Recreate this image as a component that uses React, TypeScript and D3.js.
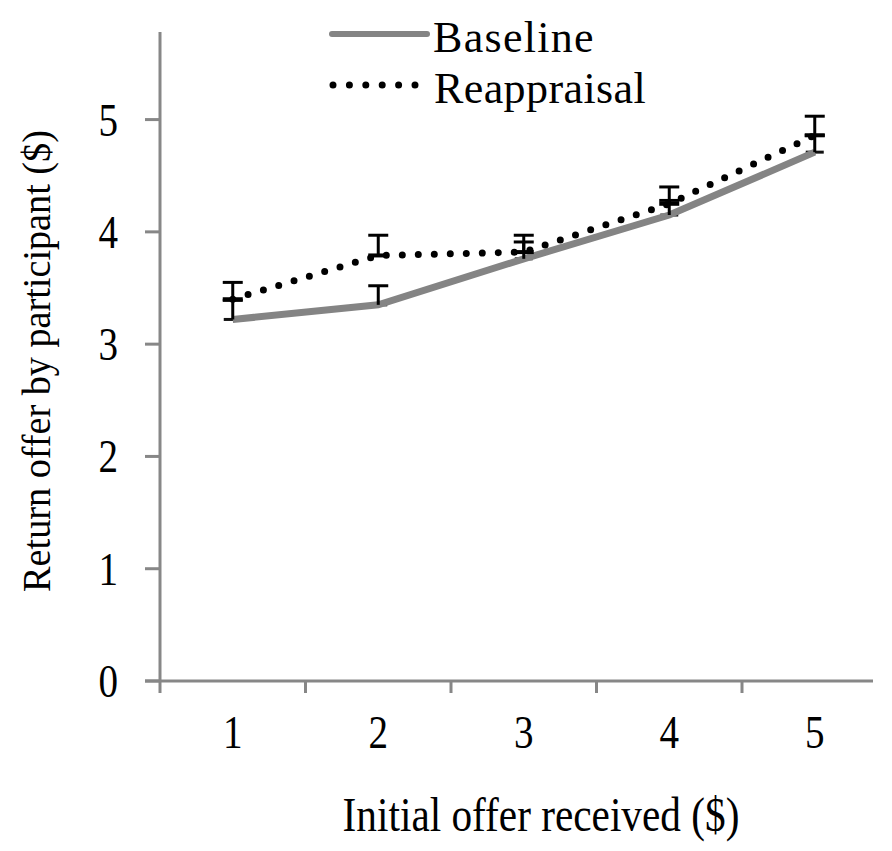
import * as d3 from "d3"

// categories on the x axis
const offers = ["1", "2", "3", "4", "5"]

// series values (mean return offer, $)
const baseline = [3.22, 3.35, 3.76, 4.15, 4.71]
const baselineErr = [0.17, 0.17, 0.15, 0.13, 0.15]
const reappraisal = [3.4, 3.79, 3.82, 4.25, 4.86]
const reappraisalErr = [0.15, 0.18, 0.15, 0.15, 0.17]

const yTicks = [0, 1, 2, 3, 4, 5]

const W = 892
const H = 851
const FONT = "'Liberation Serif', 'Times New Roman', serif"

export default function App() {
  // scales
  const x = d3.scaleBand<string>().domain(offers).range([160, 887.5]).padding(0)
  const y = d3.scaleLinear().domain([0, 5.78]).range([681, 32])
  const cx = (c: string) => (x(c) ?? 0) + x.bandwidth() / 2

  const line = d3
    .line<number>()
    .x((_, i) => cx(offers[i]))
    .y((d) => y(d))

  const axisColor = "#878787"

  return (
    <svg
      width={W}
      height={H}
      style={{ position: "absolute", left: 0, top: 0, background: "#fff" }}
      fontFamily={FONT}
    >
      <rect width={W} height={H} fill="#fff" />

      {/* y axis */}
      <line x1={160} x2={160} y1={y(5.78)} y2={693} stroke={axisColor} strokeWidth={3} />
      {yTicks.map((t) => (
        <g key={t}>
          <line x1={145} x2={160} y1={y(t)} y2={y(t)} stroke={axisColor} strokeWidth={3} />
          <text
            transform={`translate(118,${y(t) + 16}) scale(0.85,1)`}
            textAnchor="end"
            fontSize={46}
            fill="#000"
          >
            {t}
          </text>
        </g>
      ))}

      {/* x axis */}
      <line x1={145} x2={873} y1={y(0)} y2={y(0)} stroke={axisColor} strokeWidth={3} />
      {offers.map((c) => (
        <g key={c}>
          {(x(c) ?? 0) > 160 && (
            <line x1={x(c)} x2={x(c)} y1={y(0)} y2={693} stroke={axisColor} strokeWidth={3} />
          )}
          <text
            transform={`translate(${cx(c)},748) scale(0.85,1)`}
            textAnchor="middle"
            fontSize={46}
            fill="#000"
          >
            {c}
          </text>
        </g>
      ))}

      {/* axis titles */}
      <text
        transform="translate(541,831) scale(0.86,1)"
        textAnchor="middle"
        fontSize={48}
        fill="#000"
      >
        Initial offer received ($)
      </text>
      <text
        transform="translate(50,361) rotate(-90) scale(0.955,1)"
        textAnchor="middle"
        fontSize={40}
        fill="#000"
      >
        Return offer by participant ($)
      </text>

      {/* baseline dash markers (mostly hidden under the line) */}
      {baseline.map((v, i) => (
        <line
          key={`bm${i}`}
          x1={cx(offers[i]) - 9}
          x2={cx(offers[i]) + 9}
          y1={y(v)}
          y2={y(v)}
          stroke="#111"
          strokeWidth={3}
        />
      ))}

      {/* baseline series */}
      <path d={line(baseline) ?? ""} fill="none" stroke="#848484" strokeWidth={7} />

      {/* reappraisal series */}
      <path
        d={line(reappraisal) ?? ""}
        fill="none"
        stroke="#000"
        strokeWidth={7}
        strokeDasharray="0 16"
        strokeLinecap="round"
      />

      {/* error bars (plus only) */}
      {[
        { vals: baseline, err: baselineErr, k: "b" },
        { vals: reappraisal, err: reappraisalErr, k: "r" },
      ].map((s) =>
        s.vals.map((v, i) => {
          const px = cx(offers[i])
          return (
            <g key={`${s.k}${i}`} stroke="#000" strokeWidth={3}>
              <line x1={px} x2={px} y1={y(v)} y2={y(v + s.err[i])} />
              <line x1={px - 10} x2={px + 10} y1={y(v + s.err[i])} y2={y(v + s.err[i])} />
            </g>
          )
        })
      )}

      {/* reappraisal dash markers */}
      {reappraisal.map((v, i) => (
        <line
          key={`rm${i}`}
          x1={cx(offers[i]) - 10}
          x2={cx(offers[i]) + 10}
          y1={y(v)}
          y2={y(v)}
          stroke="#000"
          strokeWidth={4}
        />
      ))}

      {/* legend */}
      <line x1={332} x2={427} y1={34} y2={34} stroke="#848484" strokeWidth={6} strokeLinecap="round" />
      <text x={433} y={52} fontSize={44} letterSpacing={1.3} fill="#000">
        Baseline
      </text>
      <line
        x1={333}
        x2={415}
        y1={85}
        y2={85}
        stroke="#000"
        strokeWidth={7}
        strokeDasharray="0 16.4"
        strokeLinecap="round"
      />
      <text x={434} y={103} fontSize={44} letterSpacing={0.4} fill="#000">
        Reappraisal
      </text>
    </svg>
  )
}
